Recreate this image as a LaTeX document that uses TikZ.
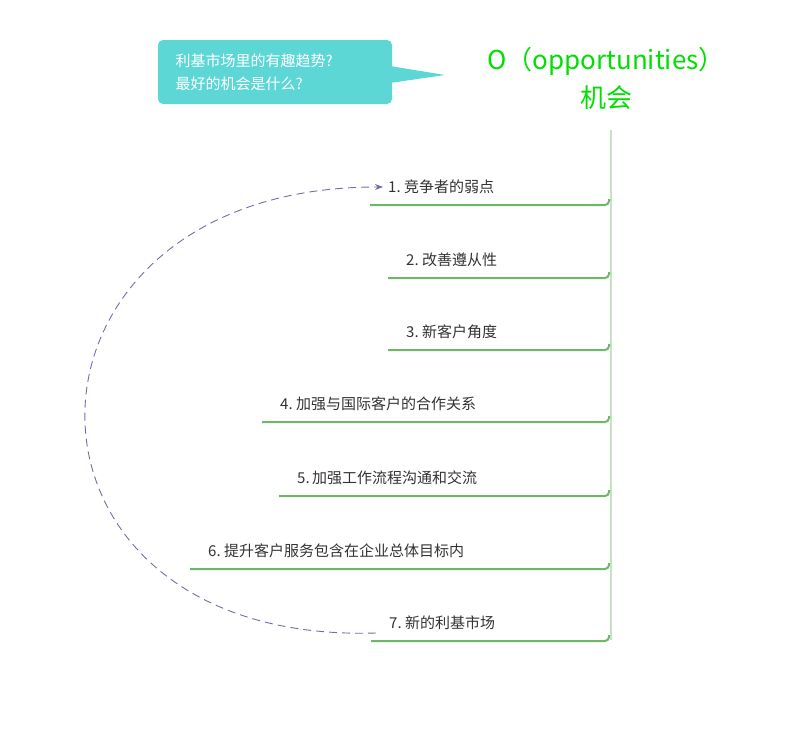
\documentclass[tikz,border=0pt]{standalone}
\usepackage{fontspec}
\setmainfont{Noto Sans CJK SC}
\usetikzlibrary{arrows.meta}
\definecolor{br}{HTML}{6DB766}
\definecolor{tx}{HTML}{333333}
\definecolor{cy}{HTML}{5DD6D6}
\definecolor{pu}{HTML}{7B68A8}
\definecolor{tg}{HTML}{00E000}
\tikzset{lbl/.style={anchor=west,inner sep=1pt,text=tx,font=\fontsize{15pt}{18pt}\selectfont},
 branch/.style={draw=br,line width=2pt,rounded corners=4pt}}
\begin{document}
\begin{tikzpicture}[x=1pt,y=-1pt]
\useasboundingbox (0,0) rectangle (800,736);
% callout
\fill[cy,rounded corners=5pt] (158,40) rectangle (392,104);
\fill[cy] (390,66) -- (445,75) -- (390,83) -- cycle;
\node[anchor=west,text=white,align=left,font=\fontsize{15pt}{23pt}\selectfont] (q) at (172,72) {利基市场里的有趣趋势?\\最好的机会是什么?};
% title
\node[text=tg,align=center,font=\fontsize{26pt}{38pt}\selectfont] (t) at (606,78) {O（opportunities）\\机会};
% trunk
\coordinate (top) at (611,130);
\coordinate (bot) at (611,640);
\draw[br!40,line width=1.2pt] (top) -- (bot);
% branches
\foreach \y/\x/\t/\n in {205/370/1.\ 竞争者的弱点/a, 278/388/2.\ 改善遵从性/b, 350/388/3.\ 新客户角度/c, 422/262/4.\ 加强与国际客户的合作关系/d, 496/279/5.\,加强工作流程沟通和交流/e, 569/190/6.\ 提升客户服务包含在企业总体目标内/f, 641/371/7.\ 新的利基市场/g}{
  \draw[branch] (\x,\y) -- (609,\y) -- (609,\y-6);
  \node[lbl] (\n) at (\x+17,\y-18) {\t};
}
% dashed arc
\draw[pu,dashed,dash pattern=on 8pt off 5pt,line width=0.9pt,-{Stealth[length=8pt]}] ([xshift=-12pt,yshift=-10pt]g.west) .. controls (-15,645) and (-10,186) .. ([xshift=-4pt]a.west);
\end{tikzpicture}
\end{document}
